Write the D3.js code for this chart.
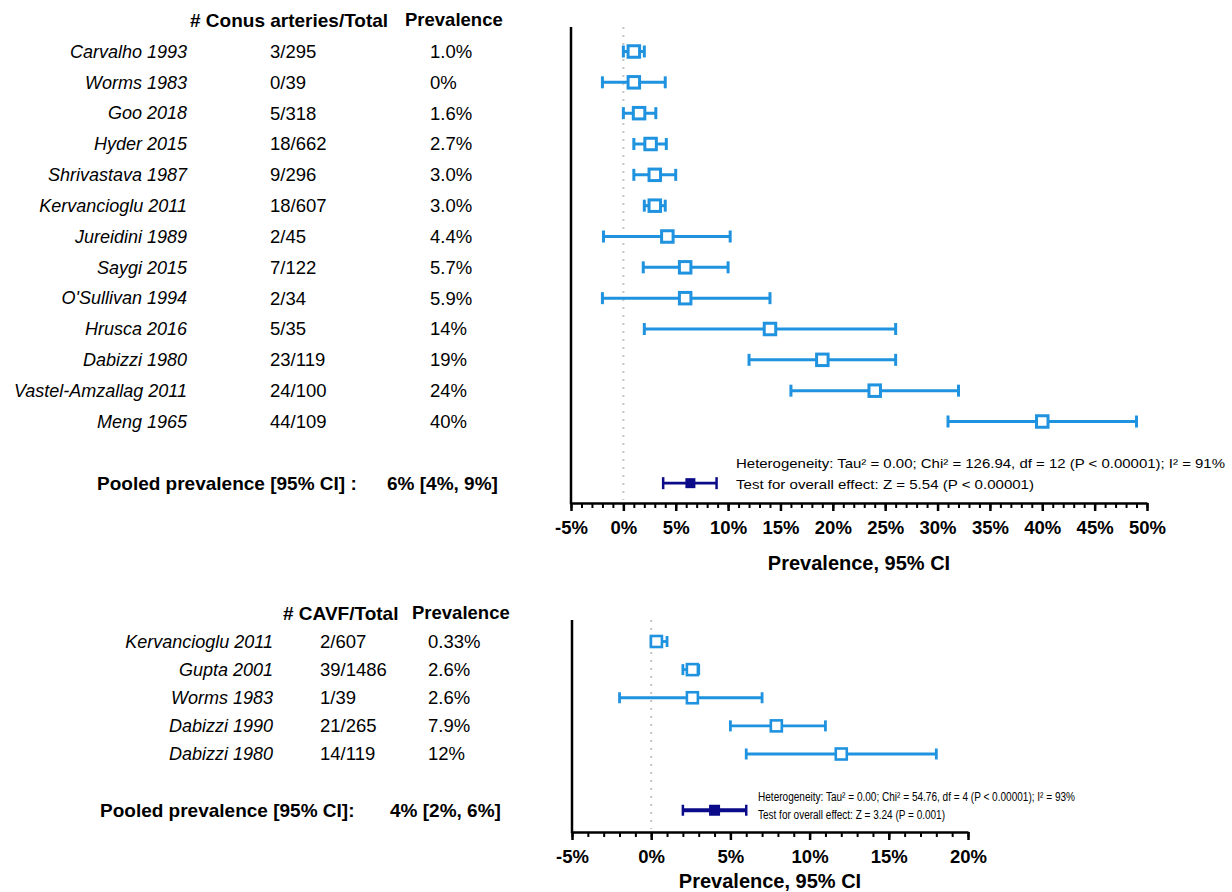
<!DOCTYPE html>
<html>
<head>
<meta charset="utf-8">
<script src="https://cdn.jsdelivr.net/npm/d3@7"></script>
<style>
  html, body { margin: 0; padding: 0; background: #fff; }
  svg { display: block; font-family: "Liberation Sans", Arial, Helvetica, sans-serif; }
</style>
</head>
<body>
<svg id="chart" width="1232" height="892"></svg>
<script>
// ---------- DATA: top panel (conus arteries) ----------
const topStudies = ["Carvalho 1993", "Worms 1983", "Goo 2018", "Hyder 2015", "Shrivastava 1987",
  "Kervancioglu 2011", "Jureidini 1989", "Saygi 2015", "O'Sullivan 1994", "Hrusca 2016",
  "Dabizzi 1980", "Vastel-Amzallag 2011", "Meng 1965"];
const topCounts = ["3/295", "0/39", "5/318", "18/662", "9/296", "18/607", "2/45", "7/122",
  "2/34", "5/35", "23/119", "24/100", "44/109"];
const topPrevLabels = ["1.0%", "0%", "1.6%", "2.7%", "3.0%", "3.0%", "4.4%", "5.7%",
  "5.9%", "14%", "19%", "24%", "40%"];
const topEst = [1.0, 1.0, 1.5, 2.6, 3.0, 3.0, 4.2, 5.9, 5.9, 14.0, 19.0, 24.0, 40.0];
const topLo  = [0.0, -2.0, 0.0, 1.0, 1.0, 2.0, -1.9, 1.9, -2.0, 2.0, 12.0, 16.0, 31.0];
const topHi  = [2.0, 4.0, 3.1, 4.1, 5.0, 4.0, 10.2, 10.0, 14.0, 26.0, 26.0, 32.0, 49.0];
const topPooled = [6.4, 3.8, 8.9]; // estimate, lower, upper
const topTicks = [-5, 0, 5, 10, 15, 20, 25, 30, 35, 40, 45, 50];
const topHeaders = ["# Conus arteries/Total", "Prevalence"];
const topPooledLabels = ["Pooled prevalence [95% CI] :", "6% [4%, 9%]"];
const topStats = ["Heterogeneity: Tau\u00b2 = 0.00; Chi\u00b2 = 126.94, df = 12 (P < 0.00001); I\u00b2 = 91%",
  "Test for overall effect: Z = 5.54 (P < 0.00001)"];

// ---------- DATA: bottom panel (CAVF) ----------
const botStudies = ["Kervancioglu 2011", "Gupta 2001", "Worms 1983", "Dabizzi 1990", "Dabizzi 1980"];
const botCounts = ["2/607", "39/1486", "1/39", "21/265", "14/119"];
const botPrevLabels = ["0.33%", "2.6%", "2.6%", "7.9%", "12%"];
const botEst = [0.33, 2.6, 2.6, 7.9, 12.0];
const botLo  = [0.0, 2.0, -2.0, 5.0, 6.0];
const botHi  = [1.0, 3.0, 7.0, 11.0, 18.0];
const botPooled = [4.0, 2.0, 6.0];
const botTicks = [-5, 0, 5, 10, 15, 20];
const botHeaders = ["# CAVF/Total", "Prevalence"];
const botPooledLabels = ["Pooled prevalence [95% CI]:", "4% [2%, 6%]"];
const botStats = ["Heterogeneity: Tau\u00b2 =  0.00; Chi\u00b2 = 54.76, df = 4 (P < 0.00001); I\u00b2 = 93%",
  "Test for overall effect: Z = 3.24 (P = 0.001)"];

const axisTitle = "Prevalence, 95% CI";

// ---------- STYLE ----------
const BLUE = "#1f93df";
const NAVY = "#0b0b8a";

const svg = d3.select("#chart");
svg.append("rect").attr("width", 1232).attr("height", 892).attr("fill", "#fff");

function panel(cfg) {
  const g = svg.append("g");
  const x = d3.scaleLinear().domain(cfg.xDomain).range(cfg.xRange);
  const y = d3.scaleLinear().domain([0, cfg.studies.length - 1]).range(cfg.yRange);
  const yPooled = y(cfg.pooledIndex);
  const rows = cfg.studies.map((s, i) => ({ s, c: cfg.counts[i], p: cfg.prev[i], est: cfg.est[i], lo: cfg.lo[i], hi: cfg.hi[i], i }));

  // headers
  g.append("text").attr("x", cfg.colCount0).attr("y", cfg.headerY).attr("dy", "0.35em")
    .attr("font-size", 19).attr("font-weight", "bold").text(cfg.headers[0]);
  g.append("text").attr("x", cfg.colPrev0).attr("y", cfg.headerY).attr("dy", "0.35em")
    .attr("font-size", 18.5).attr("font-weight", "bold").text(cfg.headers[1]);

  // text columns
  const tr = g.selectAll("g.row").data(rows).join("g").attr("class", "row");
  tr.append("text").attr("x", cfg.colName).attr("y", d => y(d.i)).attr("dy", "0.35em")
    .attr("text-anchor", "end").attr("font-style", "italic").attr("font-size", 18).text(d => d.s);
  tr.append("text").attr("x", cfg.colCount).attr("y", d => y(d.i)).attr("dy", "0.35em")
    .attr("font-size", 18.5).text(d => d.c);
  tr.append("text").attr("x", cfg.colPrev).attr("y", d => y(d.i)).attr("dy", "0.35em")
    .attr("font-size", 18.5).text(d => d.p);

  // pooled labels
  g.append("text").attr("x", cfg.pooledLabelX).attr("y", yPooled).attr("dy", "0.35em")
    .attr("font-size", 19).attr("font-weight", "bold").text(cfg.pooledLabels[0]);
  g.append("text").attr("x", cfg.pooledValX).attr("y", yPooled).attr("dy", "0.35em")
    .attr("font-size", 19).attr("font-weight", "bold").text(cfg.pooledLabels[1]);

  // zero reference dotted line
  g.append("line").attr("x1", x(0)).attr("x2", x(0))
    .attr("y1", cfg.axisTop).attr("y2", cfg.axisBottom - 3)
    .attr("stroke", "#c4c4c4").attr("stroke-width", 2).attr("stroke-dasharray", "2,6");

  // x axis: minor + major ticks
  const minorTicks = d3.range(cfg.xDomain[0], cfg.xDomain[1] + 0.001, 1);
  const gMinor = g.append("g").attr("transform", `translate(0,${cfg.axisBottom})`)
    .call(d3.axisBottom(x).tickValues(minorTicks).tickSize(5).tickSizeOuter(0).tickFormat(""));
  gMinor.select(".domain").remove();
  gMinor.selectAll(".tick line").attr("stroke", "#000").attr("stroke-width", 2);
  const gMajor = g.append("g").attr("transform", `translate(0,${cfg.axisBottom})`)
    .call(d3.axisBottom(x).tickValues(cfg.ticks).tickSize(8).tickSizeOuter(0).tickPadding(10).tickFormat(d => d + "%"));
  gMajor.select(".domain").attr("stroke", "#000").attr("stroke-width", 2.5);
  gMajor.selectAll(".tick line").attr("stroke", "#000").attr("stroke-width", 2.5);
  gMajor.selectAll(".tick text").attr("font-size", 18.5).attr("font-weight", "bold")
    .attr("font-family", "\"Liberation Sans\", Arial, sans-serif").attr("fill", "#000");

  // y axis line
  g.append("line").attr("x1", x(cfg.xDomain[0])).attr("x2", x(cfg.xDomain[0]))
    .attr("y1", cfg.axisTop).attr("y2", cfg.axisBottom + 1.25)
    .attr("stroke", "#000").attr("stroke-width", 2.5);

  // axis title
  g.append("text").attr("x", (cfg.xRange[0] + cfg.xRange[1]) / 2).attr("y", cfg.titleY).attr("dy", "0.35em")
    .attr("text-anchor", "middle").attr("font-size", 20).attr("font-weight", "bold").text(axisTitle);

  // study CIs
  const m = g.selectAll("g.mark").data(rows).join("g").attr("class", "mark");
  m.append("line").attr("x1", d => x(d.lo)).attr("x2", d => x(d.hi))
    .attr("y1", d => y(d.i)).attr("y2", d => y(d.i))
    .attr("stroke", BLUE).attr("stroke-width", cfg.ciW);
  m.append("line").attr("x1", d => x(d.lo)).attr("x2", d => x(d.lo))
    .attr("y1", d => y(d.i) - cfg.capH / 2).attr("y2", d => y(d.i) + cfg.capH / 2)
    .attr("stroke", BLUE).attr("stroke-width", cfg.ciW);
  m.append("line").attr("x1", d => x(d.hi)).attr("x2", d => x(d.hi))
    .attr("y1", d => y(d.i) - cfg.capH / 2).attr("y2", d => y(d.i) + cfg.capH / 2)
    .attr("stroke", BLUE).attr("stroke-width", cfg.ciW);
  m.append("rect").attr("x", d => x(d.est) - cfg.box / 2).attr("y", d => y(d.i) - cfg.box / 2)
    .attr("width", cfg.box).attr("height", cfg.box)
    .attr("fill", "#fff").attr("stroke", BLUE).attr("stroke-width", cfg.boxW);

  // pooled
  const [pe, pl, ph] = cfg.pooled;
  g.append("line").attr("x1", x(pl)).attr("x2", x(ph)).attr("y1", yPooled).attr("y2", yPooled)
    .attr("stroke", NAVY).attr("stroke-width", cfg.pooledW);
  [pl, ph].forEach(v => g.append("line").attr("x1", x(v)).attr("x2", x(v))
    .attr("y1", yPooled - cfg.capH / 2).attr("y2", yPooled + cfg.capH / 2)
    .attr("stroke", NAVY).attr("stroke-width", 2.5));
  g.append("rect").attr("x", x(pe) - cfg.pbox / 2).attr("y", yPooled - cfg.pbox / 2)
    .attr("width", cfg.pbox).attr("height", cfg.pbox).attr("fill", NAVY);

  // stats text
  cfg.stats.forEach((t, k) => {
    const el = g.append("text").attr("x", cfg.statsX).attr("y", cfg.statsY[k]).attr("dy", "0.35em")
      .attr("font-size", cfg.statsSize).text(t);
    if (cfg.statsLen) el.attr("textLength", cfg.statsLen[k]).attr("lengthAdjust", "spacingAndGlyphs");
  });
}

panel({
  studies: topStudies, counts: topCounts, prev: topPrevLabels, est: topEst, lo: topLo, hi: topHi,
  pooled: topPooled, ticks: topTicks, headers: topHeaders, pooledLabels: topPooledLabels, stats: topStats,
  xDomain: [-5, 50], xRange: [571, 1147], yRange: [51.5, 421.5], pooledIndex: 14,
  axisTop: 27, axisBottom: 503, titleY: 563, headerY: 20,
  colName: 187, colCount: 270, colPrev: 430, colCount0: 190, colPrev0: 405,
  pooledLabelX: 97, pooledValX: 387,
  ciW: 3, capH: 12, box: 11.5, boxW: 3, pooledW: 2.8, pbox: 10,
  statsX: 736, statsY: [463, 484], statsSize: 13.5, statsLen: [489, 298]
});

panel({
  studies: botStudies, counts: botCounts, prev: botPrevLabels, est: botEst, lo: botLo, hi: botHi,
  pooled: botPooled, ticks: botTicks, headers: botHeaders, pooledLabels: botPooledLabels, stats: botStats,
  xDomain: [-5, 20], xRange: [572, 968], yRange: [641.5, 754], pooledIndex: 6,
  axisTop: 620, axisBottom: 832, titleY: 881, headerY: 613,
  colName: 273, colCount: 320, colPrev: 428, colCount0: 283, colPrev0: 412,
  pooledLabelX: 100, pooledValX: 390,
  ciW: 2.8, capH: 11, box: 11, boxW: 2.6, pooledW: 4, pbox: 11,
  statsX: 758, statsY: [797, 815], statsSize: 12, statsLen: [317, 187]
});
</script>
</body>
</html>
